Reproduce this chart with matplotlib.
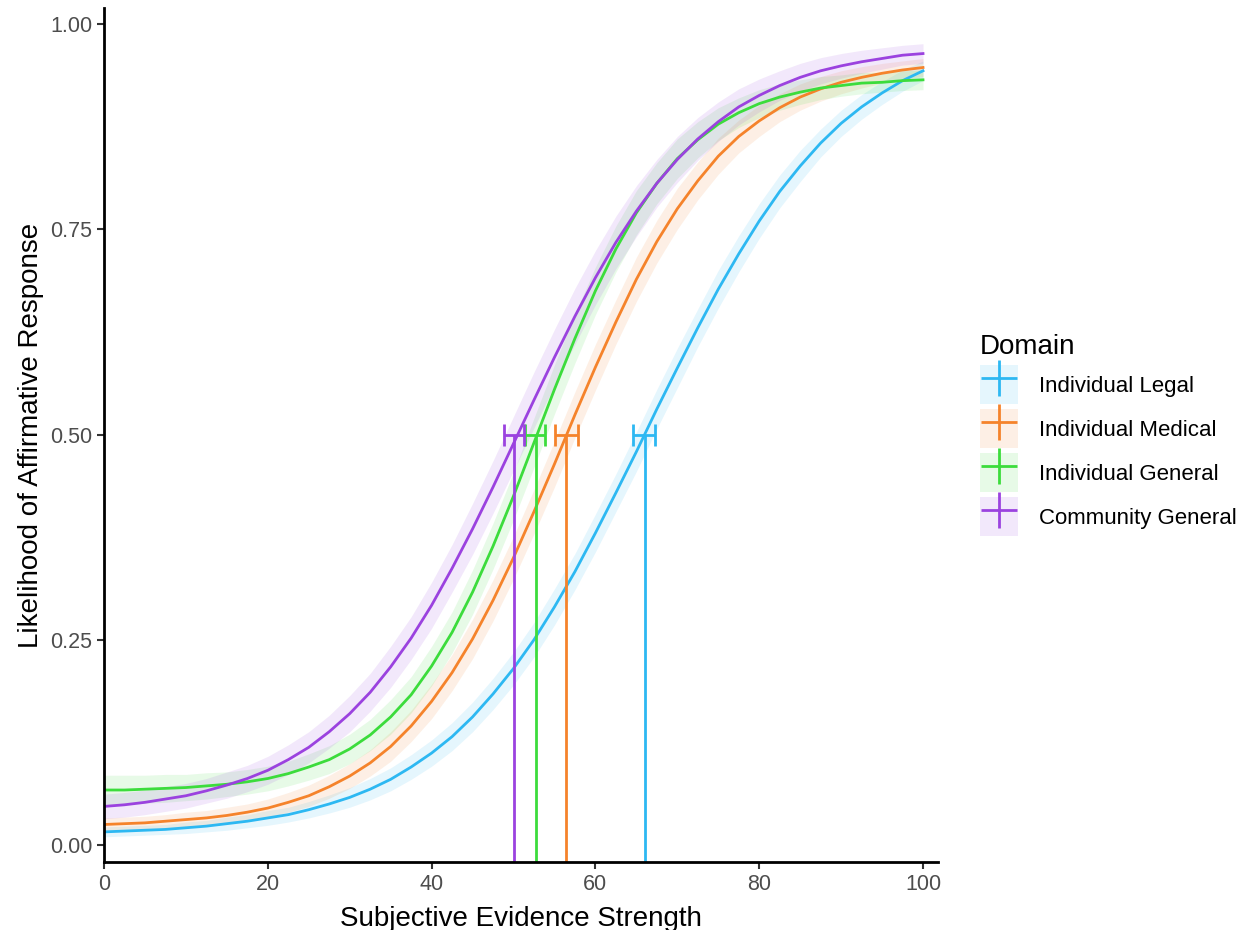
import matplotlib.pyplot as plt
from matplotlib.lines import Line2D
from matplotlib.patches import Patch

plt.rcParams["font.family"] = ["Liberation Sans", "DejaVu Sans"]

evidence = [0, 2.5, 5, 7.5, 10, 12.5, 15, 17.5, 20, 22.5, 25, 27.5, 30, 32.5, 35, 37.5, 40,
            42.5, 45, 47.5, 50, 52.5, 55, 57.5, 60, 62.5, 65, 67.5, 70, 72.5, 75, 77.5, 80,
            82.5, 85, 87.5, 90, 92.5, 95, 97.5, 100]

domains = ["Individual Legal", "Individual Medical", "Individual General", "Community General"]
colors = ["#2DB8F2", "#F5832B", "#3CDC3C", "#9B42DF"]

# fitted response probability for each domain
legal = [0.016, 0.017, 0.018, 0.019, 0.021, 0.023, 0.026, 0.029, 0.033, 0.037, 0.043,
         0.050, 0.058, 0.068, 0.080, 0.095, 0.112, 0.132, 0.156, 0.184, 0.215, 0.250,
         0.290, 0.333, 0.380, 0.429, 0.479, 0.531, 0.581, 0.630, 0.677, 0.720, 0.760,
         0.796, 0.827, 0.855, 0.879, 0.899, 0.916, 0.931, 0.943]
medical = [0.025, 0.026, 0.027, 0.029, 0.031, 0.033, 0.036, 0.040, 0.045, 0.052, 0.060,
           0.071, 0.084, 0.100, 0.120, 0.145, 0.175, 0.210, 0.251, 0.298, 0.350, 0.406,
           0.464, 0.524, 0.582, 0.637, 0.689, 0.735, 0.775, 0.809, 0.839, 0.863, 0.882,
           0.898, 0.911, 0.921, 0.929, 0.935, 0.940, 0.944, 0.947]
general = [0.067, 0.067, 0.068, 0.069, 0.070, 0.072, 0.074, 0.077, 0.081, 0.087, 0.095,
           0.104, 0.117, 0.134, 0.156, 0.183, 0.218, 0.259, 0.308, 0.364, 0.425, 0.490,
           0.555, 0.617, 0.675, 0.726, 0.770, 0.806, 0.836, 0.859, 0.878, 0.892, 0.903,
           0.911, 0.917, 0.922, 0.925, 0.928, 0.929, 0.931, 0.932]
community = [0.047, 0.049, 0.052, 0.056, 0.060, 0.066, 0.073, 0.081, 0.091, 0.104, 0.119,
             0.138, 0.160, 0.186, 0.217, 0.252, 0.292, 0.337, 0.385, 0.436, 0.489, 0.542,
             0.594, 0.644, 0.691, 0.734, 0.772, 0.806, 0.835, 0.860, 0.881, 0.899, 0.913,
             0.925, 0.935, 0.943, 0.949, 0.954, 0.958, 0.962, 0.964]

# half-width of the confidence band
legal_ci = [0.006, 0.006, 0.006, 0.006, 0.007, 0.007, 0.008, 0.008, 0.009, 0.009, 0.010,
            0.011, 0.012, 0.013, 0.014, 0.015, 0.016, 0.017, 0.018, 0.019, 0.020, 0.021,
            0.022, 0.022, 0.023, 0.023, 0.024, 0.024, 0.024, 0.023, 0.023, 0.022, 0.021,
            0.020, 0.019, 0.017, 0.016, 0.015, 0.014, 0.013, 0.012]
medical_ci = [0.008, 0.008, 0.008, 0.008, 0.009, 0.009, 0.010, 0.010, 0.011, 0.012, 0.013,
              0.014, 0.015, 0.016, 0.018, 0.019, 0.021, 0.022, 0.024, 0.025, 0.026, 0.027,
              0.028, 0.028, 0.028, 0.027, 0.027, 0.026, 0.025, 0.023, 0.022, 0.020, 0.019,
              0.017, 0.016, 0.015, 0.014, 0.013, 0.012, 0.011, 0.011]
general_ci = [0.018, 0.018, 0.017, 0.017, 0.016, 0.016, 0.015, 0.015, 0.015, 0.015, 0.016,
              0.017, 0.018, 0.019, 0.021, 0.022, 0.024, 0.025, 0.027, 0.028, 0.029, 0.030,
              0.030, 0.030, 0.029, 0.028, 0.027, 0.025, 0.024, 0.022, 0.020, 0.018, 0.017,
              0.016, 0.015, 0.014, 0.013, 0.013, 0.012, 0.012, 0.012]
community_ci = [0.015, 0.015, 0.015, 0.015, 0.015, 0.015, 0.016, 0.016, 0.017, 0.018, 0.019,
                0.020, 0.022, 0.023, 0.025, 0.026, 0.028, 0.029, 0.031, 0.032, 0.033, 0.034,
                0.034, 0.034, 0.033, 0.032, 0.031, 0.029, 0.028, 0.026, 0.024, 0.022, 0.020,
                0.018, 0.017, 0.016, 0.015, 0.014, 0.013, 0.012, 0.012]

# 50% threshold and its interval
threshold = [66.0, 56.4, 52.7, 50.1]
thr_low = [64.6, 55.1, 51.4, 48.8]
thr_high = [67.3, 57.9, 53.8, 51.3]

curves = [legal, medical, general, community]
bands = [legal_ci, medical_ci, general_ci, community_ci]

fig = plt.figure(figsize=(12.5, 9.3), dpi=100)
ax = fig.add_axes([0.0832, 0.0731, 0.667, 0.9183])
ax.set_xlim(0, 101.8)
ax.set_ylim(-0.0207, 1.0195)
ymin = ax.get_ylim()[0]

for y, ci, c in zip(curves, bands, colors):
    lo = [a - b for a, b in zip(y, ci)]
    hi = [a + b for a, b in zip(y, ci)]
    ax.fill_between(evidence, lo, hi, color=c, alpha=0.12, linewidth=0)

for y, c in zip(curves, colors):
    ax.plot(evidence, y, color=c, lw=2.0, solid_joinstyle="round")

for t, lo, hi, c in zip(threshold, thr_low, thr_high, colors):
    ax.vlines(t, ymin, 0.5, color=c, lw=2.0)
    ax.errorbar(t, 0.5, xerr=[[t - lo], [hi - t]], color=c, elinewidth=2.0,
                capsize=8, capthick=2.0, fmt="none")

ax.set_xticks([0, 20, 40, 60, 80, 100])
ax.set_yticks([0, 0.25, 0.5, 0.75, 1.0])
ax.set_yticklabels(["0.00", "0.25", "0.50", "0.75", "1.00"])
ax.tick_params(labelsize=15.5, labelcolor="#4D4D4D", color="#333333", width=1.5, length=5)
for s in ["top", "right"]:
    ax.spines[s].set_visible(False)
for s in ["left", "bottom"]:
    ax.spines[s].set_linewidth(2.0)

ax.set_xlabel("Subjective Evidence Strength", fontsize=20, labelpad=8)
ax.set_ylabel("Likelihood of Affirmative Response", fontsize=20, labelpad=4)

handles = []
for c in colors:
    box = Patch(facecolor=c, alpha=0.12, edgecolor="none")
    cross = Line2D([], [], color=c, marker="+", markersize=26, markeredgewidth=2.0, linestyle="none")
    handles.append((box, cross))

fig.legend(handles, domains, title="Domain", loc="center left", bbox_to_anchor=(0.768, 0.532),
           frameon=False, fontsize=16, title_fontsize=20, handlelength=1.71, handleheight=2.33,
           labelspacing=0.22, handletextpad=0.95, alignment="left")

plt.savefig("out.png", dpi=100)
